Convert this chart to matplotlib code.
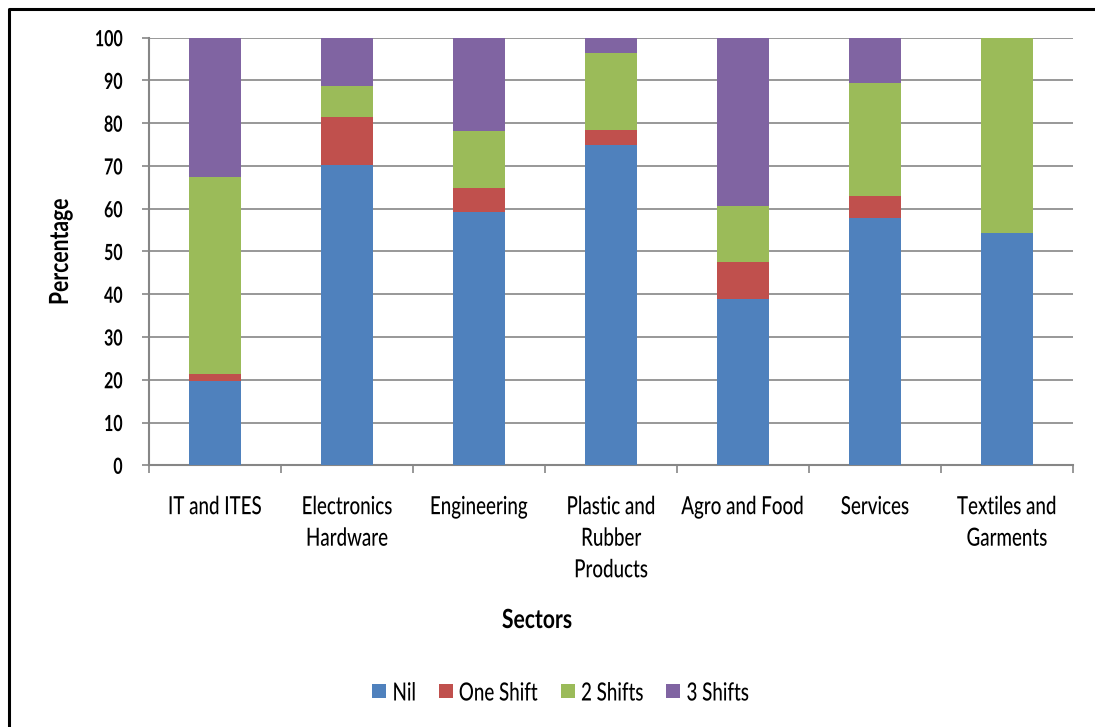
import matplotlib
matplotlib.use("Agg")
import matplotlib.pyplot as plt
from matplotlib import font_manager
from matplotlib.lines import Line2D
from matplotlib.patches import Rectangle
from matplotlib.patheffects import AbstractPathEffect
from matplotlib.transforms import Affine2D
import numpy as np

# Share of firms by number of shifts worked, per sector (percent)
sectors = ["IT and ITES", "Electronics\nHardware", "Engineering",
           "Plastic and\nRubber\nProducts", "Agro and Food", "Services",
           "Textiles and\nGarments"]
nil = [19.7, 70.2, 59.2, 74.8, 38.8, 57.8, 54.3]
one_shift = [1.6, 11.2, 5.7, 3.6, 8.7, 5.2, 0.0]
two_shifts = [46.1, 7.3, 13.3, 18.0, 13.1, 26.4, 45.7]
three_shifts = [32.6, 11.3, 21.8, 3.6, 39.4, 10.6, 0.0]

series_names = ["Nil", "One Shift", "2 Shifts", "3 Shifts"]
series_colors = ["#4F81BD", "#C0504D", "#9BBB59", "#8064A2"]
y_ticks = [0, 10, 20, 30, 40, 50, 60, 70, 80, 90, 100]


class Condense(AbstractPathEffect):
    """Squeeze glyph outlines horizontally (along the text direction)."""

    def __init__(self, sx=0.82, anchor="center"):
        super().__init__()
        self.sx = sx
        self.anchor = anchor

    def draw_path(self, renderer, gc, tpath, affine, rgbFace=None):
        ext = tpath.get_extents()
        if self.anchor == "left":
            xa = ext.x0
        elif self.anchor == "right":
            xa = ext.x1
        else:
            xa = 0.5 * (ext.x0 + ext.x1)
        pre = Affine2D().translate(-xa, 0).scale(self.sx, 1).translate(xa, 0)
        renderer.draw_path(gc, tpath, pre + affine, rgbFace)


available = {f.name for f in font_manager.fontManager.ttflist}
FONT = "Lato" if "Lato" in available else "DejaVu Sans"
plt.rcParams["font.family"] = FONT

W, H = 1095, 727
fig = plt.figure(figsize=(W / 100, H / 100), dpi=100)
fig.patch.set_facecolor("white")

left, right, top, bottom = 149, 1073, 37.7, 465.3
ax = fig.add_axes([left / W, 1 - bottom / H, (right - left) / W, (bottom - top) / H])

x = np.arange(len(sectors))
base = np.zeros(len(sectors))
for name, vals, col in zip(series_names, [nil, one_shift, two_shifts, three_shifts], series_colors):
    ax.bar(x, vals, width=0.4, bottom=base, color=col, label=name, zorder=3)
    base = base + np.array(vals)

ax.set_xlim(-0.5, len(sectors) - 0.5)
ax.set_ylim(0, 100)

grid_col = "#868686"
ax.set_yticks(y_ticks)
ax.set_yticklabels([str(v) for v in y_ticks], fontsize=16, fontweight="bold")
for t in ax.get_yticklabels():
    t.set_path_effects([Condense(0.72, "right")])
ax.yaxis.grid(True, color=grid_col, linewidth=1.2, zorder=0)
ax.tick_params(axis="y", length=5, width=1.2, color=grid_col, pad=14)

# category boundaries carry the tick marks, centres carry the labels
ax.set_xticks(np.arange(len(sectors) + 1) - 0.5)
ax.set_xticklabels([])
ax.tick_params(axis="x", which="major", length=6, width=1.2, color=grid_col, direction="out")
ax.set_xticks(x, minor=True)
ax.set_xticklabels(sectors, minor=True, fontsize=18, fontweight="medium",
                   linespacing=1.45, va="top")
for t in ax.get_xticklabels(minor=True):
    t.set_path_effects([Condense(0.75, "center")])
ax.tick_params(axis="x", which="minor", length=0, pad=21.5)

for side in ["top", "right"]:
    ax.spines[side].set_visible(False)
for side in ["left", "bottom"]:
    ax.spines[side].set_color(grid_col)
    ax.spines[side].set_linewidth(1.5)

fig.text(537 / W, 1 - 620 / H, "Sectors", ha="center", va="center",
         fontsize=19, fontweight="bold", path_effects=[Condense(0.8)])
fig.text(60 / W, 1 - 252 / H, "Percentage", ha="center", va="center", rotation=90,
         fontsize=19, fontweight="bold", path_effects=[Condense(0.8)])

# legend row: colour swatch + condensed label, laid out left to right in pixels
renderer = fig.canvas.get_renderer()
leg_sx = 0.75
cursor = 372.0
leg_y = 691.0
swatch = 14.0
for name, col in zip(series_names, series_colors):
    fig.add_artist(Rectangle((cursor / W, 1 - (leg_y + swatch / 2) / H), swatch / W, swatch / H,
                             transform=fig.transFigure, facecolor=col, edgecolor="none"))
    tx = cursor + swatch + 6
    t = fig.text(tx / W, 1 - leg_y / H, name, ha="left", va="center_baseline",
                 fontsize=18, fontweight="medium", path_effects=[Condense(leg_sx, "left")])
    width = t.get_window_extent(renderer).width * leg_sx
    cursor = tx + width + 23

# outer chart border (left and top edges)
fig.add_artist(Line2D([8.7 / W, 8.7 / W, 1.0], [0.0, 1 - 9 / H, 1 - 9 / H],
                      transform=fig.transFigure, color="black", linewidth=2.2))

fig.savefig("out.png", dpi=100, facecolor="white")
